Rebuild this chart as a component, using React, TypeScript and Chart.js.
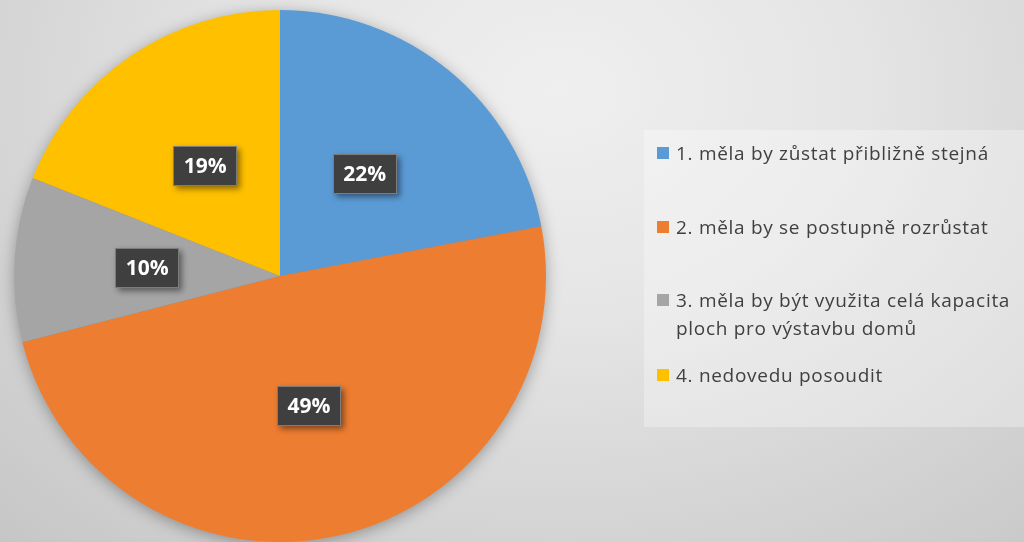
import React, { useEffect, useRef } from "react";
import { Chart, registerables } from "chart.js";

Chart.register(...registerables);

const categories: string[] = [
  "1. měla by zůstat přibližně stejná",
  "2. měla by se postupně rozrůstat",
  "3. měla by být využita celá kapacita ploch pro výstavbu domů",
  "4. nedovedu posoudit",
];
const legendLines: string[][] = [
  ["1. měla by zůstat přibližně stejná"],
  ["2. měla by se postupně rozrůstat"],
  ["3. měla by být využita celá kapacita", "ploch pro výstavbu domů"],
  ["4. nedovedu posoudit"],
];
const values: number[] = [22, 49, 10, 19];
const colors: string[] = ["#5B9BD5", "#ED7D31", "#A5A5A5", "#FFC000"];

const shadowPlugin = {
  id: "pieShadow",
  beforeDatasetsDraw(chart: any) {
    const meta = chart.getDatasetMeta(0);
    const arc = meta.data[0];
    if (!arc) return;
    const { x, y, outerRadius } = arc.getProps(["x", "y", "outerRadius"], true);
    const ctx = chart.ctx;
    ctx.save();
    ctx.shadowColor = "rgba(0,0,0,0.35)";
    ctx.shadowBlur = 16;
    ctx.shadowOffsetX = 0;
    ctx.shadowOffsetY = 3;
    ctx.fillStyle = "#888";
    ctx.beginPath();
    ctx.arc(x, y, outerRadius - 1, 0, Math.PI * 2);
    ctx.fill();
    ctx.restore();
  },
};

const labelPlugin = {
  id: "pctLabels",
  afterDatasetsDraw(chart: any) {
    const ctx = chart.ctx;
    const meta = chart.getDatasetMeta(0);
    const data = chart.data.datasets[0].data as number[];
    meta.data.forEach((arc: any, i: number) => {
      const pos = arc.tooltipPosition(true);
      const text = `${data[i]}%`;
      const w = 64;
      const h = 40;
      const bx = Math.round(pos.x - w / 2);
      const by = Math.round(pos.y - h / 2);
      ctx.save();
      ctx.shadowColor = "rgba(0,0,0,0.45)";
      ctx.shadowBlur = 6;
      ctx.shadowOffsetX = 3;
      ctx.shadowOffsetY = 3;
      ctx.fillStyle = "#3f3f3f";
      ctx.fillRect(bx, by, w, h);
      ctx.restore();
      ctx.save();
      ctx.strokeStyle = "rgba(200,200,200,0.45)";
      ctx.lineWidth = 1;
      ctx.strokeRect(bx + 0.5, by + 0.5, w - 1, h - 1);
      ctx.fillStyle = "#ffffff";
      ctx.font = "bold 21px 'Open Sans', sans-serif";
      ctx.textAlign = "center";
      ctx.textBaseline = "middle";
      ctx.fillText(text, pos.x, pos.y + 1);
      ctx.restore();
    });
  },
};

export default function App() {
  const canvasRef = useRef<HTMLCanvasElement | null>(null);

  useEffect(() => {
    const canvas = canvasRef.current;
    if (!canvas) return;
    const chart = new Chart(canvas, {
      type: "pie",
      data: {
        labels: categories,
        datasets: [
          {
            data: values,
            backgroundColor: colors,
            borderWidth: 0,
          },
        ],
      },
      options: {
        responsive: false,
        maintainAspectRatio: false,
        animation: false,
        layout: { padding: { left: 12, right: 476, top: 10, bottom: 0 } },
        plugins: {
          legend: { display: false },
          tooltip: { enabled: false },
        },
      },
      plugins: [shadowPlugin, labelPlugin],
    });
    return () => chart.destroy();
  }, []);

  const rowTops = [139, 213, 286, 361];

  return (
    <div
      style={{
        position: "fixed",
        left: 0,
        top: 0,
        width: 1024,
        height: 542,
        overflow: "hidden",
        background:
          "radial-gradient(ellipse 850px 650px at 560px 90px, #efefef 0%, #e5e5e5 35%, #d4d4d4 68%, #c4c4c4 100%)",
      }}
    >
      <div
        style={{
          position: "absolute",
          left: 644,
          top: 130,
          width: 380,
          height: 297,
          background: "rgba(255,255,255,0.3)",
        }}
      />
      <canvas
        ref={canvasRef}
        width={1024}
        height={542}
        style={{ position: "absolute", left: 0, top: 0, width: 1024, height: 542 }}
      />
      {legendLines.map((lines, i) => (
        <div
          key={i}
          style={{
            position: "absolute",
            left: 657,
            top: rowTops[i],
            fontFamily: "'Open Sans', sans-serif",
            fontSize: 19,
            letterSpacing: "0.7px",
            lineHeight: "28px",
            color: "#404040",
            whiteSpace: "nowrap",
          }}
        >
          <span
            style={{
              position: "absolute",
              left: 0,
              top: 8,
              width: 12,
              height: 12,
              background: colors[i],
            }}
          />
          <div style={{ marginLeft: 19 }}>
            {lines.map((l, j) => (
              <div key={j}>{l}</div>
            ))}
          </div>
        </div>
      ))}
    </div>
  );
}
